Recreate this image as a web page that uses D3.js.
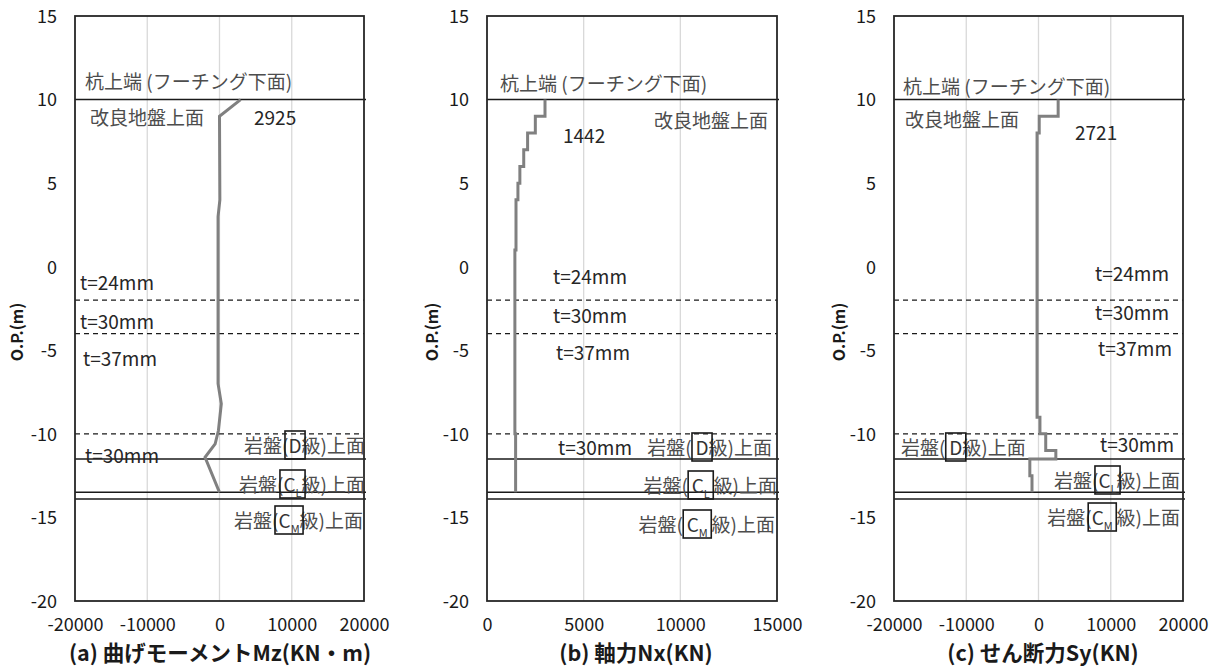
<!DOCTYPE html>
<html><head><meta charset="utf-8">
<script src="https://cdn.jsdelivr.net/npm/d3@7"></script>
<style>
body{margin:0;background:#fff;}
svg{display:block;font-family:"Noto Sans CJK JP","Noto Sans",sans-serif;}
</style></head>
<body><svg id="chart" width="1227" height="671"></svg>
<script>
// ---- data ----
const yTicks = [15, 10, 5, 0, -5, -10, -15, -20];
const xTicksA = [-20000, -10000, 0, 10000, 20000];
const xTicksB = [0, 5000, 10000, 15000];
const xTicksC = [-20000, -10000, 0, 10000, 20000];
const levelSolid = [10, -11.5, -13.5, -13.9];
const levelDashed = [-2, -4, -10];

// (a) bending moment, polyline
const momentDepth = [10, 9, 4, 3, -7, -8.2, -9.8, -10.6, -11.4, -13.5];
const momentValue = [2925, 0, 50, -200, -200, 250, -150, -600, -2000, 0];

// (b) axial force, step (value constant between depth[i] and depth[i+1])
const axialDepth = [10, 9, 8, 7, 6, 5, 4, 1, -10, -13.5];
const axialValue = [3000, 2500, 2100, 1900, 1700, 1600, 1500, 1442, 1480];

// (c) shear force, step
const shearDepth = [10, 9, 8, -9, -10, -11, -11.5, -12.5, -13.5];
const shearValue = [2721, 100, -200, 200, 1000, 2400, -1200, -900];

const peakLabels = ["2925", "1442", "2721"];
const xTitles = ["(a) 曲げモーメントMz(KN・m)", "(b) 軸力Nx(KN)", "(c) せん断力Sy(KN)"];

// ---- drawing ----
const svg = d3.select("#chart");
const plotTop = 16, plotBottom = 601;
const y = d3.scaleLinear().domain([-20, 15]).range([plotBottom, plotTop]);

const panels = [
  {left: 75, right: 364, domain: [-20000, 20000], ticks: xTicksA, titleX: 220, opX: 17},
  {left: 487, right: 777, domain: [0, 15000], ticks: xTicksB, titleX: 636, opX: 432},
  {left: 894, right: 1183, domain: [-20000, 20000], ticks: xTicksC, titleX: 1043, opX: 839}
];

function stepPoints(depths, values) {
  const pts = [];
  values.forEach((v, i) => { pts.push([v, depths[i]]); pts.push([v, depths[i + 1]]); });
  return pts;
}
const curves = [
  momentDepth.map((d, i) => [momentValue[i], d]),
  stepPoints(axialDepth, axialValue),
  stepPoints(shearDepth, shearValue)
];

const jpColor = "#4d4d4d";
const txtColor = "#262626";
const fmt = d => String(d);

panels.forEach((p, k) => {
  const x = d3.scaleLinear().domain(p.domain).range([p.left, p.right]);
  const g = svg.append("g");

  g.selectAll(".grid").data(p.ticks.slice(1, -1)).join("line")
    .attr("x1", d => x(d)).attr("x2", d => x(d)).attr("y1", plotTop).attr("y2", plotBottom)
    .attr("stroke", "#d9d9d9").attr("stroke-width", 1.3);

  const xa = d3.axisBottom(x).tickValues(p.ticks).tickSize(0).tickPadding(0).tickFormat(fmt);
  const xg = g.append("g").attr("transform", `translate(0,${plotBottom + 24})`).call(xa);
  xg.select(".domain").remove();
  xg.selectAll("text").attr("font-size", 18).attr("fill", "#1a1a1a")
    .attr("font-family", "'Noto Sans CJK JP',sans-serif").attr("dy", "0.35em");

  const ya = d3.axisLeft(y).tickValues(yTicks).tickSize(0).tickPadding(18).tickFormat(fmt);
  const yg = g.append("g").attr("transform", `translate(${p.left},0)`).call(ya);
  yg.select(".domain").remove();
  yg.selectAll("text").attr("font-size", 18).attr("fill", "#1a1a1a")
    .attr("font-family", "'Noto Sans CJK JP',sans-serif").attr("dy", "0.35em");

  g.selectAll(".solid").data(levelSolid).join("line")
    .attr("x1", p.left).attr("x2", p.right + 2).attr("y1", d => y(d)).attr("y2", d => y(d))
    .attr("stroke", "#1a1a1a").attr("stroke-width", 1.5);
  g.selectAll(".dash").data(levelDashed).join("line")
    .attr("x1", p.left).attr("x2", p.right).attr("y1", d => y(d)).attr("y2", d => y(d))
    .attr("stroke", "#1a1a1a").attr("stroke-width", 1.3).attr("stroke-dasharray", "5,4");

  const line = d3.line().x(d => x(d[0])).y(d => y(d[1]));
  g.append("path").datum(curves[k]).attr("d", line)
    .attr("fill", "none").attr("stroke", "#808080").attr("stroke-width", 3).attr("stroke-linejoin", "miter");

  g.append("rect").attr("x", p.left).attr("y", plotTop).attr("width", p.right - p.left).attr("height", plotBottom - plotTop)
    .attr("fill", "none").attr("stroke", "#262626").attr("stroke-width", 1.8);

  g.append("text").attr("x", p.titleX).attr("y", 653).attr("dy", "0.35em").attr("text-anchor", "middle")
    .attr("font-size", 21.5).attr("font-weight", "bold").attr("fill", "#1a1a1a").text(xTitles[k]);
  g.append("text").attr("transform", `translate(${p.opX},332) rotate(-90)`).attr("dy", "0.35em")
    .attr("text-anchor", "middle").attr("font-size", 16).attr("font-weight", "bold").attr("fill", "#1a1a1a")
    .text("O.P.(m)");
});

// ---- annotations ----
function label(x, yc, text, opts = {}) {
  return svg.append("text").attr("x", x).attr("y", yc).attr("dy", "0.35em")
    .attr("text-anchor", opts.anchor || "start").attr("font-size", opts.size || 19)
    .attr("fill", opts.color || jpColor).attr("font-weight", opts.weight || "normal").text(text);
}
function rockLabel(x, yc, main, sub, anchor, gapBefore, gapAfter) {
  const t = svg.append("text").attr("x", x).attr("y", yc).attr("dy", "0.35em")
    .attr("text-anchor", anchor).attr("font-size", 19).attr("fill", jpColor);
  t.append("tspan").text("岩盤(" + (gapBefore ? "\u2009" : ""));
  t.append("tspan").attr("fill", "#333").text(main);
  if (sub) t.append("tspan").attr("font-size", 11).attr("dy", "0.45em").attr("fill", "#333").text(sub);
  t.append("tspan").attr("dy", sub ? "-0.26em" : null).text((gapAfter ? "\u2009" : "") + "級)上面");
  const node = t.node();
  const startIdx = 3 + (gapBefore ? 1 : 0);
  const n = sub ? 2 : 1;
  let x0 = Infinity, x1 = -Infinity;
  for (let i = startIdx; i < startIdx + n; i++) {
    const e = node.getExtentOfChar(i);
    x0 = Math.min(x0, e.x); x1 = Math.max(x1, e.x + e.width);
  }
  svg.append("rect").attr("x", x0 - 3.5).attr("y", yc - 15).attr("width", x1 - x0 + 7).attr("height", 28)
    .attr("fill", "none").attr("stroke", "#1a1a1a").attr("stroke-width", 1.6);
}

const pileTop = "杭上端 (フーチング下面)";
// panel a
label(85, 82, pileTop);
label(90, 118, "改良地盤上面");
label(254, 118, peakLabels[0], {color: txtColor});
label(80, 283, "t=24mm", {color: txtColor});
label(80, 322, "t=30mm", {color: txtColor});
label(83, 359, "t=37mm", {color: txtColor});
label(85, 456, "t=30mm", {color: txtColor});
rockLabel(365, 446, "D", null, "end", false, false);
rockLabel(365, 485, "C", "L", "end", false, false);
rockLabel(363, 521, "C", "M", "end", false, false);

// panel b
label(500, 84, pileTop);
label(768, 121, "改良地盤上面", {anchor: "end"});
label(563, 136, peakLabels[1], {color: txtColor});
label(553, 277, "t=24mm", {color: txtColor});
label(553, 316, "t=30mm", {color: txtColor});
label(556, 353, "t=37mm", {color: txtColor});
label(558, 448, "t=30mm", {color: txtColor});
rockLabel(772, 448, "D", null, "end", true, false);
rockLabel(777, 486, "C", "L", "end", true, true);
rockLabel(775, 525, "C", "M", "end", true, true);

// panel c
label(903, 87, pileTop);
label(905, 120, "改良地盤上面");
label(1075, 133, peakLabels[2], {color: txtColor});
label(1169, 274, "t=24mm", {color: txtColor, anchor: "end"});
label(1169, 313, "t=30mm", {color: txtColor, anchor: "end"});
label(1172, 349, "t=37mm", {color: txtColor, anchor: "end"});
label(1174, 445, "t=30mm", {color: txtColor, anchor: "end"});
rockLabel(901, 448, "D", null, "start", true, false);
rockLabel(1180, 481, "C", "L", "end", false, false);
rockLabel(1180, 518, "C", "M", "end", false, true);
</script></body></html>
